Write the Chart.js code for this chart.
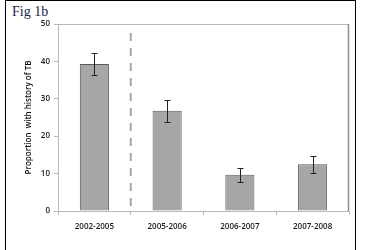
<!DOCTYPE html>
<html>
<head>
<meta charset="utf-8">
<script src="https://cdn.jsdelivr.net/npm/chart.js@4"></script>
<style>
    html, body { margin: 0; padding: 0; background: #fff; overflow: hidden; }
    #frame { position: absolute; left: 5px; top: 0; width: 351px; height: 270px; border: 1px solid #000; box-sizing: border-box; }
    #fig { position: absolute; left: 12px; top: 4px; font-family: 'Liberation Serif', 'DejaVu Serif', serif; font-size: 14px; color: #1c2450; }
    #wrap { position: absolute; left: 0; top: 0; width: 365px; height: 250px; }
</style>
</head>
<body>
<div id="frame"></div>
<div id="fig">Fig 1b</div>
<div id="wrap"><canvas id="chart" width="365" height="250"></canvas></div>
<script>
const periods = ['2002-2005', '2005-2006', '2006-2007', '2007-2008'];
const proportion = [39.3, 26.8, 9.7, 12.5];
const errLow = [36.4, 23.9, 7.8, 10.1];
const errHigh = [42.2, 29.7, 11.6, 14.8];
const yTicks = [0, 10, 20, 30, 40, 50];

// error bars, plot frame and the dashed divider after the first period
const extras = {
    id: 'extras',
    afterDatasetsDraw(chart) {
        const ctx = chart.ctx;
        const x = chart.scales.x;
        const y = chart.scales.y;
        const area = chart.chartArea;
        ctx.save();

        // frame around the plot area
        ctx.strokeStyle = '#b8b8b8';
        ctx.lineWidth = 1;
        ctx.beginPath();
        ctx.moveTo(area.left + 0.5, area.bottom);
        ctx.lineTo(area.left + 0.5, area.top + 0.5);
        ctx.lineTo(area.right - 0.5, area.top + 0.5);
        ctx.stroke();
        ctx.strokeStyle = '#8c8c8c';
        ctx.lineWidth = 1.5;
        ctx.beginPath();
        ctx.moveTo(area.right - 0.5, area.top);
        ctx.lineTo(area.right - 0.5, area.bottom);
        ctx.stroke();

        // dashed divider
        const xd = (x.getPixelForValue(0) + x.getPixelForValue(1)) / 2;
        ctx.strokeStyle = '#a6a6a6';
        ctx.lineWidth = 2;
        ctx.setLineDash([8, 7]);
        ctx.beginPath();
        ctx.moveTo(xd, y.getPixelForValue(47.6));
        ctx.lineTo(xd, area.bottom);
        ctx.stroke();
        ctx.setLineDash([]);

        // error bars
        ctx.strokeStyle = '#222';
        ctx.lineWidth = 1;
        periods.forEach((p, i) => {
            const cx = Math.round(x.getPixelForValue(i)) + 0.5;
            const top = Math.round(y.getPixelForValue(errHigh[i])) + 0.5;
            const bot = Math.round(y.getPixelForValue(errLow[i])) + 0.5;
            ctx.beginPath();
            ctx.moveTo(cx, top);
            ctx.lineTo(cx, bot);
            ctx.moveTo(cx - 3, top);
            ctx.lineTo(cx + 3, top);
            ctx.moveTo(cx - 3, bot);
            ctx.lineTo(cx + 3, bot);
            ctx.stroke();
        });
        ctx.restore();
    }
};

const tickFont = { family: 'Open Sans', size: 8, weight: '600' };

new Chart(document.getElementById('chart'), {
    type: 'bar',
    data: {
        labels: periods,
        datasets: [{
            data: proportion,
            backgroundColor: '#a6a6a6',
            borderColor: '#595959',
            borderWidth: 1,
            categoryPercentage: 1,
            barPercentage: 0.4
        }]
    },
    options: {
        responsive: false,
        animation: false,
        layout: { padding: { left: 20, top: 24, right: 16, bottom: 0 } },
        scales: {
            x: {
                grid: { drawOnChartArea: false, tickLength: 4, color: '#b8b8b8', offset: true },
                border: { color: '#b8b8b8' },
                ticks: { color: '#1a1a1a', font: tickFont, padding: 7, maxRotation: 0 },
                afterFit(scale) { scale.height = 39; }
            },
            y: {
                min: 0,
                max: 50,
                afterBuildTicks(scale) { scale.ticks = yTicks.map(v => ({ value: v })); },
                grid: { drawOnChartArea: false, tickLength: 4, color: '#b8b8b8' },
                border: { color: '#b8b8b8' },
                ticks: { color: '#1a1a1a', font: tickFont, padding: 4 },
                title: {
                    display: true,
                    text: 'Proportion  with history of TB',
                    color: '#111',
                    font: { family: 'Open Sans', size: 8, weight: '600' },
                    padding: { top: 4, bottom: 2 }
                },
                afterFit(scale) { scale.width = 38; }
            }
        },
        plugins: {
            legend: { display: false },
            tooltip: { enabled: false }
        }
    },
    plugins: [extras]
});
</script>
</body>
</html>
